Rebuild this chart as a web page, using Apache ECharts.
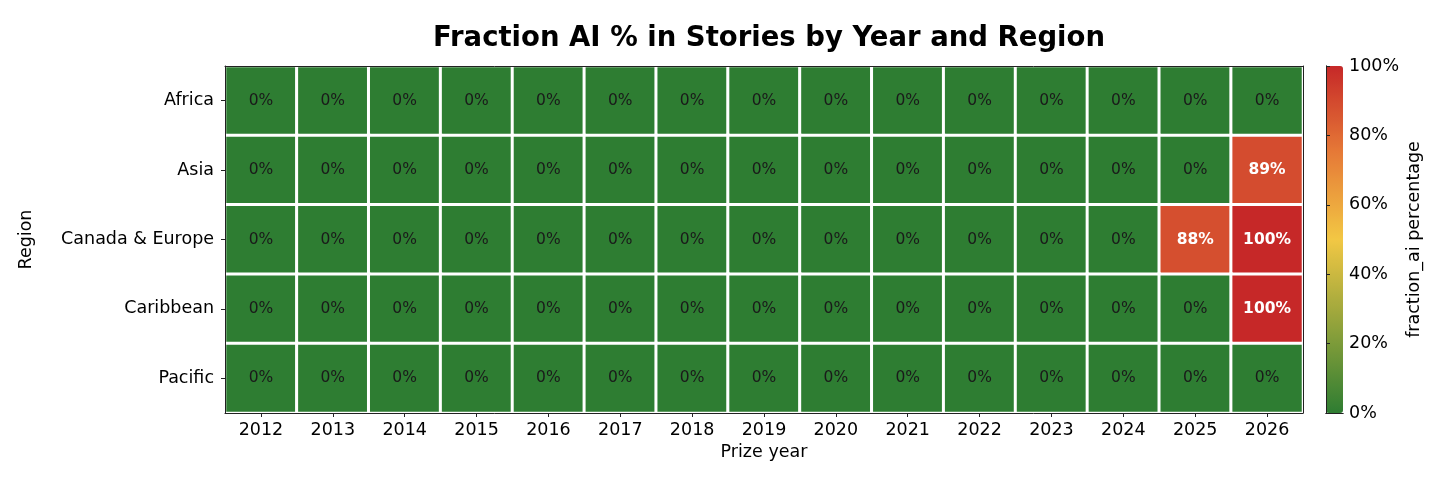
<!DOCTYPE html>
<html><head><meta charset="utf-8">
<script src="https://cdn.jsdelivr.net/npm/echarts@6/dist/echarts.min.js"></script>
<style>html,body{margin:0;padding:0;background:#fff}#c{width:1456px;height:481px}</style>
</head><body><div id="c"></div>
<script>
const years = ['2012','2013','2014','2015','2016','2017','2018','2019','2020','2021','2022','2023','2024','2025','2026'];
const regions = ['Africa','Asia','Canada & Europe','Caribbean','Pacific'];
const africa     = [0,0,0,0,0,0,0,0,0,0,0,0,0,0,0];
const asia       = [0,0,0,0,0,0,0,0,0,0,0,0,0,0,89];
const canadaEu   = [0,0,0,0,0,0,0,0,0,0,0,0,0,88,100];
const caribbean  = [0,0,0,0,0,0,0,0,0,0,0,0,0,0,100];
const pacific    = [0,0,0,0,0,0,0,0,0,0,0,0,0,0,0];
const colorTicks = [0,20,40,60,80,100];

const rows = [africa, asia, canadaEu, caribbean, pacific];
const data = [];
rows.forEach((r, yi) => r.forEach((v, xi) => {
  const hi = v >= 50;
  data.push({value:[xi, yi, v], label:{color: hi ? '#ffffff' : '#1a1a1a', fontWeight: hi ? 'bold' : 'normal'}});
}));

const F = 'DejaVu Sans';
const chart = echarts.init(document.getElementById('c'));
chart.setOption({
  animation:false,
  textStyle:{fontFamily:F},
  title:{text:'Fraction AI % in Stories by Year and Region', left:764, textAlign:'center', top:20,
    textStyle:{fontFamily:F, fontSize:27.5, fontWeight:'bold', color:'#000'}},
  grid:[
    {left:225, right:153, top:66, bottom:68},
    {left:1326, width:17, top:66, height:347}
  ],
  xAxis:[
    {type:'category', data:years, gridIndex:0, position:'bottom', z:10,
     name:'Prize year', nameLocation:'middle', nameGap:30, nameTextStyle:{fontSize:17.5, color:'#000'},
     axisLine:{show:true, lineStyle:{color:'#222', width:1}},
     axisTick:{show:true, alignWithLabel:true, length:4, lineStyle:{color:'#222'}},
     axisLabel:{fontSize:17.5, color:'#000', margin:8}, splitLine:{show:false}},
    {type:'category', data:years, gridIndex:0, position:'top', z:10,
     axisLine:{show:true, lineStyle:{color:'#222', width:1}}, axisTick:{show:false}, axisLabel:{show:false}},
    {type:'value', gridIndex:1, position:'bottom', min:0, max:1, z:10,
     axisLine:{show:true, lineStyle:{color:'#222'}}, axisTick:{show:false}, axisLabel:{show:false}, splitLine:{show:false}},
    {type:'value', gridIndex:1, position:'top', min:0, max:1, z:10,
     axisLine:{show:true, lineStyle:{color:'#222'}}, axisTick:{show:false}, axisLabel:{show:false}, splitLine:{show:false}}
  ],
  yAxis:[
    {type:'category', data:regions, gridIndex:0, inverse:true, position:'left', z:10,
     name:'Region', nameLocation:'middle', nameGap:190, nameRotate:90, nameTextStyle:{fontSize:17.5, color:'#000'},
     axisLine:{show:true, lineStyle:{color:'#222', width:1}},
     axisTick:{show:true, alignWithLabel:true, length:4, lineStyle:{color:'#222'}},
     axisLabel:{fontSize:17.5, color:'#000', margin:11}, splitLine:{show:false}},
    {type:'category', data:regions, gridIndex:0, inverse:true, position:'right', z:10,
     axisLine:{show:true, lineStyle:{color:'#222', width:1}}, axisTick:{show:false}, axisLabel:{show:false}},
    {type:'value', gridIndex:1, position:'right', min:0, max:100, interval:20, z:10,
     name:'fraction_ai percentage', nameLocation:'middle', nameRotate:90, nameGap:62,
     nameTextStyle:{fontSize:17.5, color:'#000'},
     axisLine:{show:true, lineStyle:{color:'#222'}},
     axisTick:{show:true, length:4, lineStyle:{color:'#222'}},
     axisLabel:{fontSize:17.5, color:'#000', margin:6, formatter:'{value}%'},
     splitLine:{show:false}},
    {type:'value', gridIndex:1, position:'left', min:0, max:100, z:10,
     axisLine:{show:true, lineStyle:{color:'#222'}}, axisTick:{show:false}, axisLabel:{show:false}, splitLine:{show:false}}
  ],
  visualMap:{type:'continuous', min:0, max:100, seriesIndex:0, orient:'vertical',
    left:1326, top:66, itemWidth:17, itemHeight:347, padding:0, calculable:false,
    inRange:{color:['#2e7d32','#90a23b','#f2c744','#e67a37','#c62828']}},
  series:[{
    type:'heatmap', xAxisIndex:0, yAxisIndex:0, data:data,
    label:{show:true, fontSize:15.5, fontFamily:F, formatter:p => p.value[2] + '%'},
    itemStyle:{borderColor:'#ffffff', borderWidth:3},
    emphasis:{disabled:true}
  }]
});
</script></body></html>
